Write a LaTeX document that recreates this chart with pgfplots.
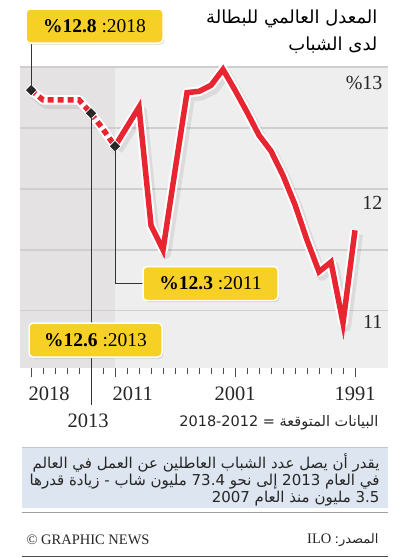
\documentclass[border=0pt]{standalone}
\usepackage{pgfplots}
\pgfplotsset{compat=1.18}
\usepackage{pgfplotstable}
\usepackage{fontspec}
\setmainfont{Liberation Serif}
\newfontfamily\arabicfont[Script=Arabic]{DejaVu Sans}
\newfontfamily\sansfont{DejaVu Sans}
\TeXXeTstate=1
\usetikzlibrary{shadows}
\definecolor{lred}{RGB}{232,38,50}
\definecolor{boxy}{RGB}{247,208,37}
\definecolor{bgdark}{RGB}{228,226,227}
\definecolor{bglight}{RGB}{239,238,239}
\definecolor{gridc}{RGB}{208,206,208}
\definecolor{noteb}{RGB}{221,229,240}

\pgfplotstableread{
year val
2018 12.81
2017 12.73
2016 12.73
2015 12.73
2014 12.73
2013 12.62
2012 12.49
2011 12.35
}\proj

\pgfplotstableread{
year val
2011 12.35
2010 12.51
2009 12.67
2008 11.70
2007 11.50
2006 12.15
2005 12.79
2004 12.80
2003 12.85
2002 12.98
2001 12.81
2000 12.63
1999 12.44
1998 12.31
1997 12.11
1996 11.87
1995 11.58
1994 11.32
1993 11.40
1992 10.90
1991 11.66
}\actual

\begin{document}
\begin{tikzpicture}
\begin{axis}[
  at={(20pt,-67pt)}, anchor=north west,
  width=368pt, height=301pt, scale only axis,
  xmin=1988.25, xmax=2018.92, ymin=10.53, ymax=13.0,
  x dir=reverse,
  set layers, clip=false,
  axis line style={draw=none},
  ytick={11,11.5,12,12.5,13}, yticklabels={},
  ymajorgrids, major grid style={gridc, line width=1.5pt},
  ytick style={draw=none},
  xtick={2001,1991}, xticklabels={2001,1991},
  extra x ticks={2018,2011}, extra x tick labels={2018,2011},
  extra x tick style={xticklabel style={anchor=north west, xshift=-6pt}},
  minor xtick={1991,...,2018},
  xtick pos=bottom, xtick align=outside,
  major tick length=9pt, minor tick length=6pt,
  every tick/.style={black!70, line width=0.6pt},
  xticklabel style={font=\fontsize{20.5}{20.5}\selectfont, text=black!85, yshift=-6pt},
  /pgf/number format/assume math mode=true,
]
\begin{pgfonlayer}{axis background}
\fill[bglight] (axis cs:1988.25,10.53) rectangle (axis cs:2011,13);
\fill[bgdark] (axis cs:2011,10.53) rectangle (axis cs:2018.92,13);
\end{pgfonlayer}
% soft shadow
\addplot[black, opacity=0.08, line width=10pt, xshift=3pt, yshift=-4pt, line join=round] table[x=year,y=val] {\actual};
\addplot[black, opacity=0.08, line width=10pt, xshift=3pt, yshift=-4pt, line join=round] table[x=year,y=val] {\proj};
% halo
\addplot[white, line width=9.5pt, line join=round] table[x=year,y=val] {\proj};
\addplot[white, line width=9.5pt, line join=round] table[x=year,y=val] {\actual};
% lines
\addplot[lred, line width=5.5pt, dash pattern=on 6pt off 4pt] table[x=year,y=val] {\proj};
\addplot[lred, line width=5.5pt, line join=miter] table[x=year,y=val] {\actual};
% projection markers
\addplot[only marks, mark=square*, mark size=4.2pt,
  mark options={rotate=45, fill=black!85, draw=white, line width=0.8pt}]
  coordinates {(2018,12.81) (2013,12.62) (2011,12.35)};
\coordinate (d2018) at (axis cs:2018,12.81);
\coordinate (d2013) at (axis cs:2013,12.62);
\coordinate (d2011) at (axis cs:2011,12.35);
\end{axis}

\begin{scope}[x=1pt,y=1pt]
\tikzset{box/.style={fill=boxy, draw=white, line width=1.5pt, rounded corners=4pt,
  minimum height=34pt, inner sep=0pt,
  drop shadow={opacity=0.3, shadow xshift=1.2pt, shadow yshift=-1.5pt},
  font=\fontsize{19.5}{19.5}\selectfont}}
% y labels
\node[anchor=east, font=\fontsize{20}{20}\selectfont, text=black!85] at (386,-83) {\%13};
\node[anchor=east, font=\fontsize{20}{20}\selectfont, text=black!85] at (386,-203) {12};
\node[anchor=east, font=\fontsize{20}{20}\selectfont, text=black!85] at (386,-322) {11};
% callout lines
\coordinate (b18) at (31,-43);
\coordinate (b13) at (91,-405);
\coordinate (b11) at (115,-283);
\draw[black!80, line width=0.7pt] (d2018) -- (d2018 |- b18);
\draw[black!80, line width=0.7pt] (d2013) -- (d2013 |- b13);
\draw[black!80, line width=0.7pt] (d2011) -- (d2011 |- b11) -- (145,-283);
% boxes
\node[box, minimum width=137pt] at (94.5,-26) {\textbf{\%12.8} :2018};
\node[box, minimum width=133pt] at (95.5,-340) {\textbf{\%12.6} :2013};
\node[box, minimum width=135pt] at (210.5,-283.5) {\textbf{\%12.3} :2011};
% 2013 label
\node[font=\fontsize{20.5}{20.5}\selectfont, text=black!85] at (88,-421) {2013};
% title
\node[anchor=north east, align=right, font=\arabicfont\fontsize{18}{27}\selectfont] at (381,-6)
  {\beginR المعدل العالمي للبطالة\endR\\ \beginR لدى الشباب\endR};
% projection note
\node[anchor=east, font=\fontsize{14.5}{14.5}\selectfont, text=black!85] at (382,-423)
  {\sansfont 2018-2012 = \arabicfont\beginR البيانات المتوقعة\endR};
% footnote box
\fill[noteb] (22,-447) rectangle (388,-508);
\draw[gray!45, line width=0.8pt] (22,-447) -- (388,-447);
\draw[gray!75, line width=1pt] (22,-512) -- (388,-512);
\node[anchor=north east, align=right, font=\arabicfont\fontsize{15}{17}\selectfont, text=black!85] at (383,-450)
  {\beginR يقدر أن يصل عدد الشباب العاطلين عن العمل في العالم\endR\\
   \beginR في العام 2013 إلى نحو 73.4 مليون شاب - زيادة قدرها\endR\\
   \beginR 3.5 مليون منذ العام 2007\endR};
% credits
\node[anchor=west, font=\fontsize{14.5}{14.5}\selectfont, text=black!85] at (23,-540) {© GRAPHIC NEWS};
\node[anchor=east, font=\fontsize{14.5}{14.5}\selectfont, text=black!85] at (382,-540) {ILO :{\arabicfont\fontsize{13}{13}\selectfont المصدر}};
\draw[black!70, line width=0.8pt] (22,-556) -- (388,-556);
\end{scope}
\pgfresetboundingbox
\path[use as bounding box] (0pt,0pt) rectangle (398pt,-558pt);
\end{tikzpicture}
\end{document}
